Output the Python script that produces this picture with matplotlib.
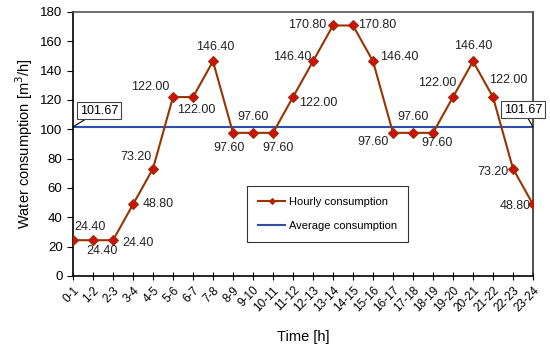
import matplotlib
matplotlib.use("Agg")
import matplotlib.pyplot as plt
import numpy as np

plt.rcParams['font.family'] = ['Liberation Sans', 'DejaVu Sans']

hours = ["0-1", "1-2", "2-3", "3-4", "4-5", "5-6", "6-7", "7-8", "8-9", "9-10",
         "10-11", "11-12", "12-13", "13-14", "14-15", "15-16", "16-17", "17-18",
         "18-19", "19-20", "20-21", "21-22", "22-23", "23-24"]
hourly = [24.40, 24.40, 24.40, 48.80, 73.20, 122.00, 122.00, 146.40, 97.60, 97.60,
          97.60, 122.00, 146.40, 170.80, 170.80, 146.40, 97.60, 97.60, 97.60,
          122.00, 146.40, 122.00, 73.20, 48.80]
average = 101.67

# label offsets in pixels (style only)
offsets = [(17, 13), (9, -11), (25, -3), (25, 0), (-17, 12), (-23, 10), (3, -13),
           (2, 14), (-4, -15), (0, 16), (5, -15), (25, -6), (-21, 4), (-26, 0),
           (24, 0), (26, 4), (-20, -9), (0, 16), (4, -10), (-16, 14), (0, 15),
           (15, 17), (-20, -3), (-18, -2)]

fig = plt.figure(figsize=(5.5, 3.47), dpi=100)
ax = fig.add_axes([73/550, 1-276/347, 460/550, 264/347])

x = np.arange(len(hours))
ax.plot(x, hourly, color='#993300', lw=1.5, marker='D', ms=5,
        mfc='#D01010', mec='#993300', mew=0.8, label='Hourly consumption', zorder=3)
ax.axhline(average, color='#2E4FA8', lw=1.5, label='Average consumption', zorder=2)

for xi, v, (dx, dy) in zip(x, hourly, offsets):
    ax.annotate(f"{v:.2f}", (xi, v), xytext=(dx, dy), textcoords='offset pixels',
                ha='center', va='center', fontsize=9, color='#222222')

bbox = dict(boxstyle='square,pad=0.2', fc='white', ec='#444444', lw=0.8)
ax.annotate(f"{average:.2f}", (0, average), xytext=(26, 16), textcoords='offset pixels',
            ha='center', va='center', fontsize=9, bbox=bbox,
            arrowprops=dict(arrowstyle='-', color='black', lw=0.8, shrinkA=0, shrinkB=0))
ax.annotate(f"{average:.2f}", (len(hours)-1, average), xytext=(-10, 17), textcoords='offset pixels',
            ha='center', va='center', fontsize=9, bbox=bbox, annotation_clip=False,
            arrowprops=dict(arrowstyle='-', color='black', lw=0.8, shrinkA=0, shrinkB=0))

ax.set_xlim(0, len(hours)-1)
ax.set_ylim(0, 180)
ax.set_yticks(np.arange(0, 181, 20))
ax.set_xticks(x)
ax.set_xticklabels(hours, rotation=45, ha='right', rotation_mode='anchor', fontsize=8.5)
ax.tick_params(axis='y', labelsize=9.5, direction='out', length=4)
ax.tick_params(axis='x', direction='inout', length=6, pad=3)
for s in ax.spines.values():
    s.set_linewidth(1.2)
ax.spines['top'].set_color('#555555')
ax.spines['right'].set_color('#333333')

ax.set_xlabel("Time [h]", fontsize=10.5, labelpad=11)
ax.set_ylabel("Water consumption [m$^3$/h]", fontsize=10.5, labelpad=4)

leg = ax.legend(loc='upper left', bbox_to_anchor=((241-73)/460, (276-180)/264),
                fontsize=8, frameon=True, fancybox=False, edgecolor='black',
                borderpad=1.0, labelspacing=1.3, handlelength=2.5, handletextpad=0.3,
                markerscale=0.6)
leg.get_frame().set_linewidth(0.8)

fig.savefig("out.png", dpi=100)
